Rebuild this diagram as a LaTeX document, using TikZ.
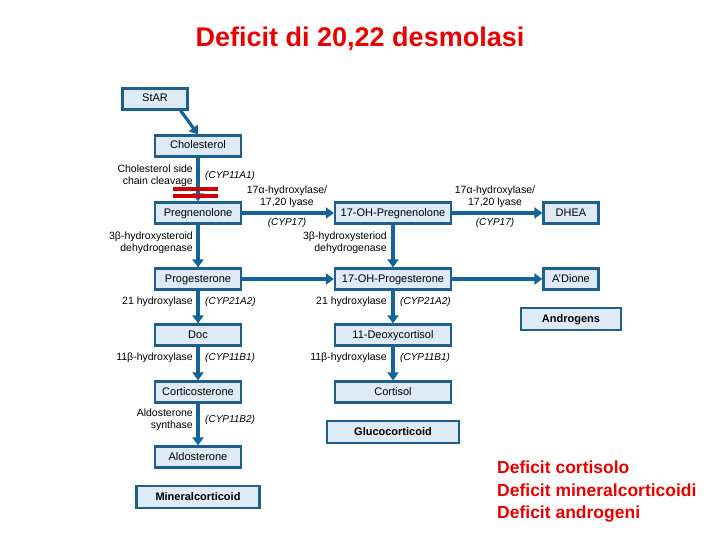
\documentclass[tikz,border=0pt]{standalone}
\usepackage{fontspec}
\setmainfont{Liberation Sans}
\usetikzlibrary{arrows.meta}
\definecolor{bx}{RGB}{222,234,246}
\definecolor{bd}{RGB}{30,95,140}
\definecolor{ar}{RGB}{20,100,155}
\definecolor{tr}{RGB}{230,0,0}
\begin{document}
\begin{tikzpicture}[x=1pt,y=-1pt,
 box/.style={draw=bd,line width=2.2pt,fill=bx,minimum height=21pt,inner sep=1pt,text height=8pt,text depth=2pt,font=\fontsize{11}{12}\selectfont},
 big/.style={box,minimum height=22pt,font=\fontsize{11}{12}\selectfont\bfseries},
 arr/.style={draw=ar,line width=3.2pt,-{Triangle[length=8pt,width=11pt]}},
 lab/.style={font=\fontsize{10.5}{12.5}\selectfont,inner sep=0pt,align=right},
 lbc/.style={font=\fontsize{10.5}{12.5}\selectfont,inner sep=0pt,align=center},
 cyp/.style={font=\fontsize{10}{11}\selectfont\itshape,inner sep=0pt}]
\useasboundingbox (0,0) rectangle (720,540);
\node[text=tr,font=\fontsize{27}{30}\selectfont\bfseries] (title) at (360,39) {Deficit di 20,22 desmolasi};
\node[box,minimum width=65pt] (star) at (155,99) {StAR};
\foreach \n/\t/\y in {chol/Cholesterol/146,preg/Pregnenolone/213,prog/Progesterone/279,doc/Doc/335,cort/Corticosterone/392,ald/Aldosterone/457}
 \node[box,minimum width=86pt] (\n) at (198,\y) {\t};
\node[big,minimum width=123pt] (min) at (198,497) {Mineralcorticoid};
\foreach \n/\t/\y in {ohpreg/17-OH-Pregnenolone/213,ohprog/17-OH-Progesterone/279,deoxy/11-Deoxycortisol/335,cortisol/Cortisol/392}
 \node[box,minimum width=116pt] (\n) at (393,\y) {\t};
\node[big,minimum width=132pt] (gluc) at (393,432) {Glucocorticoid};
\node[box,minimum width=55pt] (dhea) at (571,213) {DHEA};
\node[box,minimum width=55pt] (adione) at (571,279) {A'Dione};
\node[big,minimum width=100pt] (andr) at (571,319) {Androgens};
\draw[arr] (star.south east)++(-8,0) coordinate (s1) -- (chol.north);
\draw[arr] (chol) -- (preg);
\draw[arr] (preg) -- (prog);
\draw[arr] (prog) -- (doc);
\draw[arr] (doc) -- (cort);
\draw[arr] (cort) -- (ald);
\draw[arr] (ohpreg) -- (ohprog);
\draw[arr] (ohprog) -- (deoxy);
\draw[arr] (deoxy) -- (cortisol);
\draw[arr] (preg) -- (ohpreg);
\draw[arr] (ohpreg) -- (dhea);
\draw[arr] (prog) -- (ohprog);
\draw[arr] (ohprog) -- (adione);
\draw[draw=red!80!black,line width=3.5pt] (173,189) coordinate (r1) -- (218,189) coordinate (r2);
\draw[draw=red!80!black,line width=3.5pt] (173,196) coordinate (r3) -- (218,196) coordinate (r4);
\node[lab,anchor=east] (l1) at (193,176) {Cholesterol side\\chain cleavage};
\node[cyp,anchor=west] (c1) at (205,176) {(CYP11A1)};
\node[lbc] (l2) at (287,197) {17α-hydroxylase/\\17,20 lyase};
\node[cyp] (c2) at (287,223) {(CYP17)};
\node[lbc] (l3) at (495,197) {17α-hydroxylase/\\17,20 lyase};
\node[cyp] (c3) at (495,223) {(CYP17)};
\node[lab,anchor=east] (l4) at (193,243) {3β-hydroxysteroid\\dehydrogenase};
\node[lab,anchor=east] (l5) at (387,243) {3β-hydroxysteriod\\dehydrogenase};
\node[lab,anchor=east] (l6) at (193,302) {21 hydroxylase};
\node[cyp,anchor=west] (c6) at (205,302) {(CYP21A2)};
\node[lab,anchor=east] (l7) at (387,302) {21 hydroxylase};
\node[cyp,anchor=west] (c7) at (400,302) {(CYP21A2)};
\node[lab,anchor=east] (l8) at (193,358) {11β-hydroxylase};
\node[cyp,anchor=west] (c8) at (205,358) {(CYP11B1)};
\node[lab,anchor=east] (l9) at (387,358) {11β-hydroxylase};
\node[cyp,anchor=west] (c9) at (400,358) {(CYP11B1)};
\node[lab,anchor=east] (l10) at (193,420) {Aldosterone\\synthase};
\node[cyp,anchor=west] (c10) at (205,420) {(CYP11B2)};
\node[text=tr,font=\fontsize{17.5}{22.5}\selectfont\bfseries,align=left,anchor=north west,inner sep=0pt] (def) at (497,461) {Deficit cortisolo\\Deficit mineralcorticoidi\\Deficit androgeni};
\end{tikzpicture}
\end{document}
